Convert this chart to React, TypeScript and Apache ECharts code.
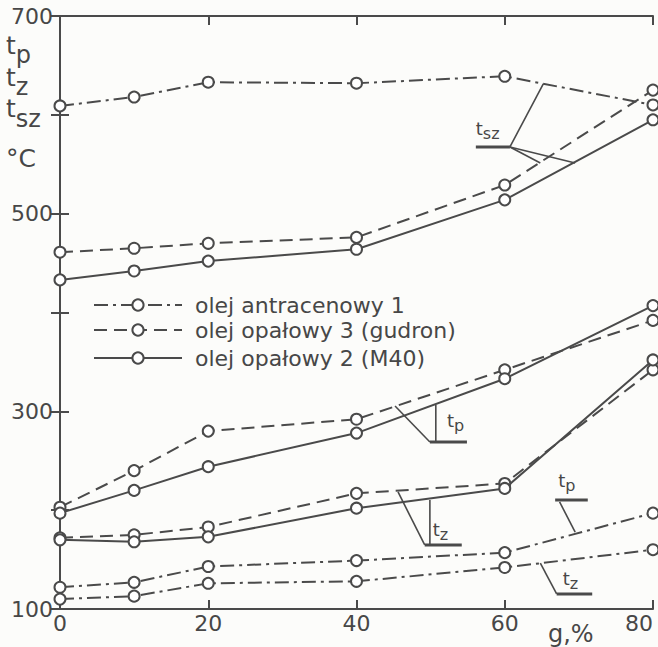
import React, { useEffect, useRef } from 'react';
import * as echarts from 'echarts';

// x values: g, %
const G = [0, 10, 20, 40, 60, 80];

// t_sz (upper group)
const TSZ_ANT = [609, 618, 633, 632, 639, 610];
const TSZ_GUD = [461, 465, 470, 476, 529, 625];
const TSZ_M40 = [433, 442, 452, 464, 514, 595];
// t_p (middle group)
const TP_GUD = [203, 240, 280, 292, 342, 392];
const TP_M40 = [197, 220, 244, 278, 333, 407];
// t_z (middle group)
const TZ_GUD = [172, 175, 183, 217, 227, 342];
const TZ_M40 = [170, 168, 173, 202, 222, 352];
// anthracene oil t_p / t_z (lower group)
const TP_ANT = [122, 127, 143, 149, 157, 197];
const TZ_ANT = [110, 113, 126, 128, 142, 160];

const NAMES = ['olej antracenowy 1', 'olej opałowy 3 (gudron)', 'olej opałowy 2 (M40)'];
const Y_LABELS = [100, 300, 500, 700];

// annotation leader lines (data coordinates)
const ANNOTATIONS = [
  { sub: 'sz', under: [[56.1, 567.5], [60.7, 567.5]], legs: [[[60.7, 567.5], [65.2, 631.2]], [[60.7, 567.5], [64.8, 551.3]], [[60.7, 567.5], [69.5, 551.3]]], dx: 0, dy: -9 },
  { sub: 'p', under: [[49.9, 269], [54.9, 269]], legs: [[[49.9, 269], [45.2, 305.4]], [[50.7, 269], [50.7, 306.4]]], dx: 17, dy: -12 },
  { sub: 'z', under: [[49.2, 164.8], [54.2, 164.8]], legs: [[[49.2, 164.8], [45.6, 218.4]], [[49.9, 164.8], [49.9, 210.3]]], dx: 8, dy: -6 },
  { sub: 'p', under: [[66.8, 210.3], [71.2, 210.3]], legs: [[[67.4, 208.3], [69.5, 177.9]]], dx: 3, dy: -10 },
  { sub: 'z', under: [[67.0, 115.2], [71.8, 115.2]], legs: [[[67.0, 115.2], [64.8, 146.5]]], dx: 6, dy: -6 },
];

const LINE = '#4a4a4a';
const TXT = '#474747';
const FONT = 'DejaVu Sans';
const DASHDOT = [14, 5, 3, 5];
const DASHED = [13, 7];

function series(name: string, vals: number[], type: any) {
  return {
    type: 'line',
    name,
    data: G.map((g, i) => [g, vals[i]]),
    symbol: 'circle',
    symbolSize: 11,
    lineStyle: { color: LINE, width: 2, type },
    itemStyle: { color: '#fff', borderColor: LINE, borderWidth: 2 },
    z: 3,
  };
}

function tsub(x: number, yBase: number, sub: string, size: number, subSize: number, shift: number) {
  return [
    { type: 'text', x, y: yBase, style: { text: 't', font: `${size}px "${FONT}"`, fill: TXT, textVerticalAlign: 'bottom', textAlign: 'left' } },
    { type: 'text', x: x + size * 0.39, y: yBase + shift, style: { text: sub, font: `${subSize}px "${FONT}"`, fill: TXT, textVerticalAlign: 'bottom', textAlign: 'left' } },
  ];
}

export default function App() {
  const ref = useRef<HTMLDivElement>(null);
  useEffect(() => {
    const chart = echarts.init(ref.current!, null, { renderer: 'svg' });
    const axisCommon = {
      type: 'value',
      axisLine: { show: true, lineStyle: { color: LINE, width: 2 } },
      axisTick: { show: true, inside: true, length: 9, lineStyle: { color: LINE, width: 2 } },
      splitLine: { show: false },
    };
    const legendTops = [289, 314, 342];
    chart.setOption({
      animation: false,
      backgroundColor: '#fcfcfa',
      grid: { left: 60, right: 5, top: 16, bottom: 38 },
      xAxis: [
        { ...axisCommon, position: 'bottom', min: 0, max: 80, interval: 20, axisLabel: { fontSize: 22, color: TXT, fontFamily: FONT, margin: 3, alignMaxLabel: 'right' } },
        { ...axisCommon, position: 'top', min: 0, max: 80, interval: 20, axisLabel: { show: false } },
      ],
      yAxis: [
        { ...axisCommon, position: 'left', min: 100, max: 700, interval: 100, axisLabel: { fontSize: 22, color: TXT, fontFamily: FONT, margin: 7, formatter: (v: number) => (Y_LABELS.includes(v) ? String(v) : '') } },
        { ...axisCommon, position: 'right', min: 100, max: 700, interval: 100, axisLabel: { show: false } },
      ],
      legend: NAMES.map((n, i) => ({
        data: [n],
        left: 88,
        top: legendTops[i],
        itemWidth: 88,
        itemHeight: 14,
        selectedMode: false,
        textStyle: { fontSize: 22, color: TXT, fontFamily: FONT, padding: [0, 0, 0, 8] },
      })),
      series: [
        series(NAMES[0], TSZ_ANT, DASHDOT),
        series(NAMES[1], TSZ_GUD, DASHED),
        series(NAMES[2], TSZ_M40, 'solid'),
        series(NAMES[1], TP_GUD, DASHED),
        series(NAMES[2], TP_M40, 'solid'),
        series(NAMES[1], TZ_GUD, DASHED),
        series(NAMES[2], TZ_M40, 'solid'),
        series(NAMES[0], TP_ANT, DASHDOT),
        series(NAMES[0], TZ_ANT, DASHDOT),
      ],
    });

    const P = (p: number[]) => chart.convertToPixel({ gridIndex: 0 }, p) as number[];
    const els: any[] = [];
    ANNOTATIONS.forEach((a) => {
      const u0 = P(a.under[0]);
      const u1 = P(a.under[1]);
      els.push({ type: 'line', shape: { x1: u0[0], y1: u0[1], x2: u1[0], y2: u1[1] }, style: { stroke: LINE, lineWidth: 3 } });
      a.legs.forEach((l) => {
        const p0 = P(l[0]);
        const p1 = P(l[1]);
        els.push({ type: 'line', shape: { x1: p0[0], y1: p0[1], x2: p1[0], y2: p1[1] }, style: { stroke: LINE, lineWidth: 1.6 } });
      });
      els.push(...tsub(u0[0] + a.dx, u0[1] + a.dy, a.sub, 18, 16, 4));
    });
    // y axis title
    els.push(...tsub(6, 58, 'p', 25, 24, 9));
    els.push(...tsub(6, 90, 'z', 25, 24, 9));
    els.push(...tsub(6, 121, 'sz', 25, 24, 10));
    els.push({ type: 'text', x: 6, y: 171, style: { text: '°C', font: `25px "${FONT}"`, fill: TXT, textVerticalAlign: 'bottom' } });
    // x axis title
    els.push({ type: 'text', x: 548, y: 646, style: { text: 'g,%', font: `24px "${FONT}"`, fill: TXT, textVerticalAlign: 'bottom' } });
    chart.setOption({ graphic: els });
    return () => chart.dispose();
  }, []);
  return <div ref={ref} style={{ position: 'absolute', left: 0, top: 0, width: 658, height: 647 }} />;
}
